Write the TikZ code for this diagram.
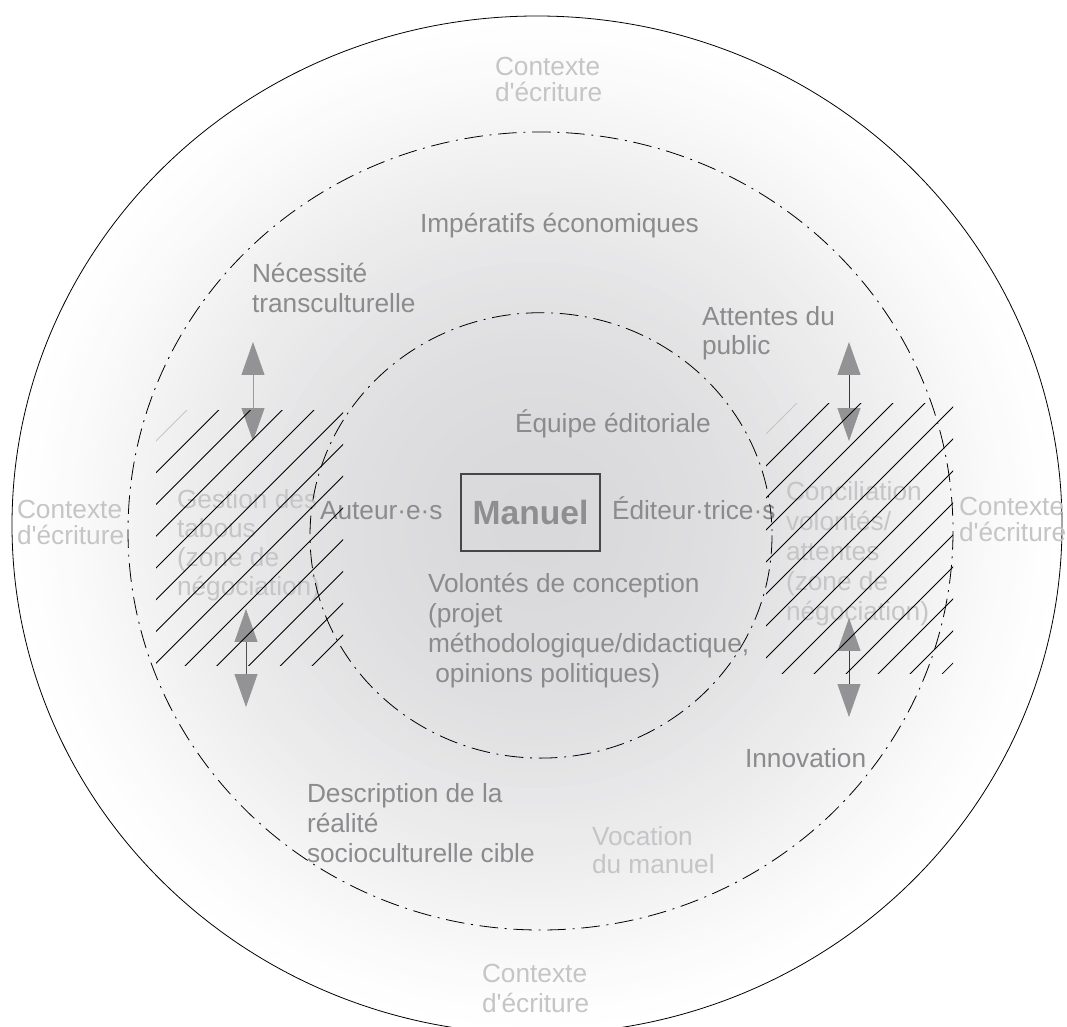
\documentclass[tikz,border=0pt]{standalone}
\usepackage{fontspec}
\setmainfont{Liberation Sans}
\usetikzlibrary{arrows.meta}
\definecolor{txt}{RGB}{139,139,141}
\definecolor{ltxt}{RGB}{197,197,199}
\definecolor{agray}{RGB}{147,147,150}
\definecolor{mantxt}{RGB}{142,142,144}
\definecolor{boxline}{RGB}{70,70,72}
\definecolor{shaftA}{RGB}{155,155,157}
\definecolor{shaftB}{RGB}{80,80,82}
\definecolor{shaftC}{RGB}{60,60,62}
\definecolor{bgA}{RGB}{217,217,219}
\newcommand{\apos}{\textquotesingle}
\begin{document}
\begin{tikzpicture}[x=0.75pt,y=-0.75pt,
  lbl/.style={anchor=base west,inner sep=0pt,outer sep=0pt,align=left,text=txt,font=\fontsize{19.7}{22.3}\selectfont},
  light/.style={lbl,text=ltxt},
  ring/.style={draw=black,line width=0.6pt,dash pattern=on 14pt off 5pt on 1.5pt off 5pt},
  hatchline/.style={draw=black,line width=0.55pt},
  dbl/.style={draw=#1,line width=0.7pt,{Triangle[length=24.7pt,width=17.2pt,color=agray]}-{Triangle[length=24.7pt,width=17.2pt,color=agray]}},
  manbox/.style={draw=boxline,line width=0.9pt,minimum width=104.25pt,minimum height=57.75pt,inner sep=0pt,text=mantxt,font=\fontsize{25.2}{30}\selectfont\bfseries}
]
\useasboundingbox (0,0) rectangle (1067,1027);
\fill[white] (0,0) rectangle (1067,1027);
\begin{scope}
\clip (0,0) rectangle (1067,1027);
\foreach \i in {0,...,59} {
  \pgfmathsetmacro\f{1-\i/60}
  \pgfmathsetmacro\p{100*(1-\f*\f)^1.3}
  \fill[bgA!\p!white] (537,525) ellipse [x radius={525*\f}, y radius={509*\f}];
}
\draw[black,line width=0.6pt] (537,525) ellipse [x radius=525, y radius=509];
\end{scope}

% texts (anchored at the baseline of the last line)
\node[light,font=\fontsize{19.7}{20}\selectfont] (ctop) at (495,102) {Contexte\\d\apos écriture};
\node[light,font=\fontsize{19.7}{22.5}\selectfont] (cbot) at (482,1012) {Contexte\\d\apos écriture};
\node[light,font=\fontsize{19.7}{19.5}\selectfont] (cleft) at (17,544) {Contexte\\d\apos écriture};
\node[light,font=\fontsize{19.7}{19.5}\selectfont] (cright) at (959,541) {Contexte\\d\apos écriture};
\node[lbl] (imp) at (420,232) {Impératifs économiques};
\node[lbl,font=\fontsize{19.7}{22.5}\selectfont] (nec) at (252,312) {Nécessité\\transculturelle};
\node[lbl,font=\fontsize{19.7}{21.75}\selectfont] (att) at (702,354) {Attentes du\\public};
\node[lbl] (equ) at (515,432) {Équipe éditoriale};
\node[lbl] (aut) at (320,519) {Auteur·e·s};
\node[lbl] (edi) at (612,519) {Éditeur·trice·s};
\node[light,font=\fontsize{19.7}{21.75}\selectfont] (ges) at (177,595) {Gestion des\\tabous\\(zone de\\négociation)};
\node[light,font=\fontsize{19.7}{22.5}\selectfont] (con) at (786,620) {Conciliation\\volontés/\\attentes\\(zone de\\négociation)};
\node[lbl] (vol) at (428,682) {Volontés de conception\\(projet\\méthodologique/didactique,\\\hspace*{0.278em}opinions politiques)};
\node[lbl,font=\fontsize{19.7}{22.5}\selectfont] (des) at (307,862) {Description de la\\réalité\\socioculturelle cible};
\node[light,font=\fontsize{19.7}{21}\selectfont] (voc) at (592,873) {Vocation\\du manuel};
\node[lbl] (inn) at (745,767) {Innovation};

% arrows
\coordinate (a1t) at (253,342); \coordinate (a1b) at (253,441);
\coordinate (a2t) at (246,609); \coordinate (a2b) at (246,707);
\coordinate (a3t) at (849,342); \coordinate (a3b) at (849,441);
\coordinate (a4t) at (849,618); \coordinate (a4b) at (849,717);
\draw[dbl=shaftA] (a1t) -- (a1b);
\draw[dbl=shaftB] (a2t) -- (a2b);
\draw[dbl=shaftC] (a3t) -- (a3b);
\draw[dbl=shaftC] (a4t) -- (a4b);

% hatch left
\begin{scope}
\clip (156,410) rectangle (343,665);
\draw[line width=0.55pt,draw=ltxt] (597-700,700) -- (597,0);
\foreach \k in {1,...,13} {
  \draw[hatchline] ({597+31.75*\k-700},700) -- ({597+31.75*\k},0);
}
\end{scope}
% hatch right
\begin{scope}
\clip (766,403) rectangle (953,673);
\draw[line width=0.55pt,draw=ltxt] (1200-700,700) -- (1200,0);
\foreach \k in {1,...,13} {
  \draw[hatchline] ({1200+32*\k-700},700) -- ({1200+32*\k},0);
}
\end{scope}

% rings
\draw[ring] (540.5,531) ellipse [x radius=412.5, y radius=399];
\draw[ring] (541,535.4) ellipse [x radius=231, y radius=222.7];

% Manuel
\node[manbox] (man) at (530.5,512.5) {Manuel};
\end{tikzpicture}
\end{document}
